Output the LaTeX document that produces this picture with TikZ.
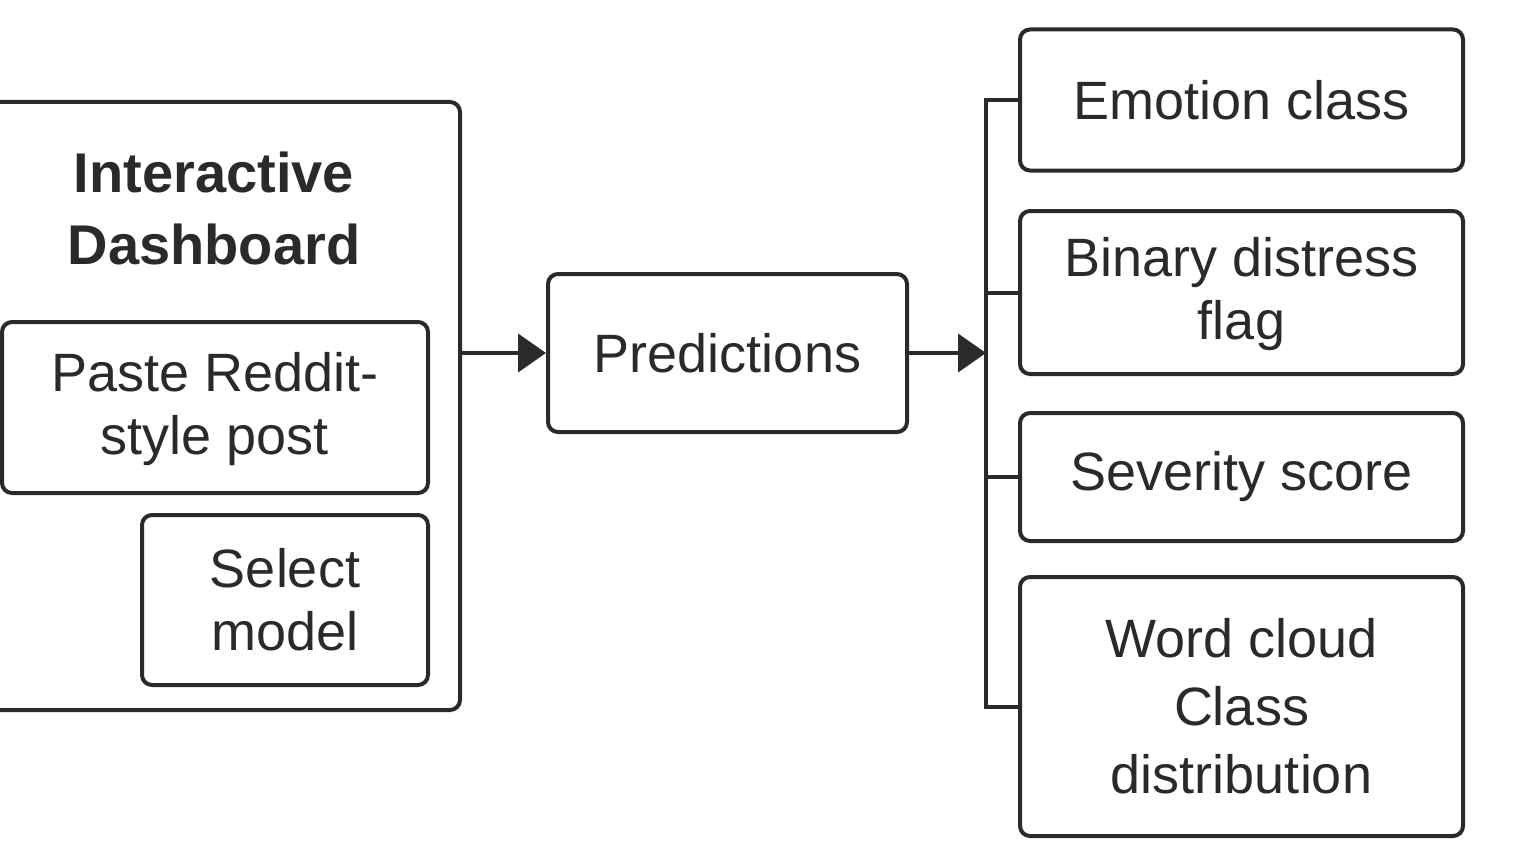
\documentclass[tikz,border=0pt]{standalone}
\usepackage{fontspec}
\setmainfont{Liberation Sans}
\usetikzlibrary{arrows.meta}
\definecolor{ink}{HTML}{2A2A2A}
\tikzset{
  box/.style={draw=ink, line width=2pt, rounded corners=5pt, align=center,
    text=ink, font=\fontsize{27}{31.5}\selectfont, inner sep=0pt},
  wire/.style={draw=ink, line width=2pt},
  arr/.style={wire, -{Triangle[length=14pt,width=19pt]}}
}
\begin{document}
\begin{tikzpicture}[x=0.5pt, y=-0.5pt]
      \useasboundingbox (0,0) rectangle (1514,856);

      % Draw the dashboard and its inputs
      \node[box, minimum width=240pt, minimum height=304pt] (dash) at (220,406) {};
      \node[text=ink, align=center, font=\fontsize{28}{36}\selectfont\bfseries] (title) at (214,208) {Interactive\\Dashboard};
      \node[box, minimum width=213pt, minimum height=85.5pt, text depth=4pt] (paste) at (215,407.5) {Paste Reddit-\\style post};
      \node[box, minimum width=143pt, minimum height=85pt] (select) at (285,600) {Select\\model};

      % Draw the predictions box
      \node[box, minimum width=179.5pt, minimum height=79pt] (pred) at (727.5,353) {Predictions};

      % Draw the outputs
      \node[box, minimum width=221.5pt, minimum height=70.5pt] (emo) at (1241.5,100) {Emotion class};
      \node[box, minimum width=221.5pt, minimum height=81.5pt, text depth=4pt] (bin) at (1241.5,292.5) {Binary distress\\flag};
      \node[box, minimum width=221.5pt, minimum height=64pt] (sev) at (1241.5,477) {Severity score};
      \node[box, minimum width=221.5pt, minimum height=129.5pt, font=\fontsize{27}{34}\selectfont] (word) at (1241.5,706.5) {Word cloud\\Class\\distribution};

      % Draw the arrows and the bus
      \coordinate (bus) at (986,0);
      \draw[arr] (pred.west -| dash.east) -- (pred.west);
      \draw[arr] (pred.east) -- (pred.east -| bus);
      \draw[wire] (emo.west) -- (emo.west -| bus) -- (word.west -| bus) -- (word.west);
      \draw[wire] (bin.west) -- (bin.west -| bus);
      \draw[wire] (sev.west) -- (sev.west -| bus);
\end{tikzpicture}
\end{document}
